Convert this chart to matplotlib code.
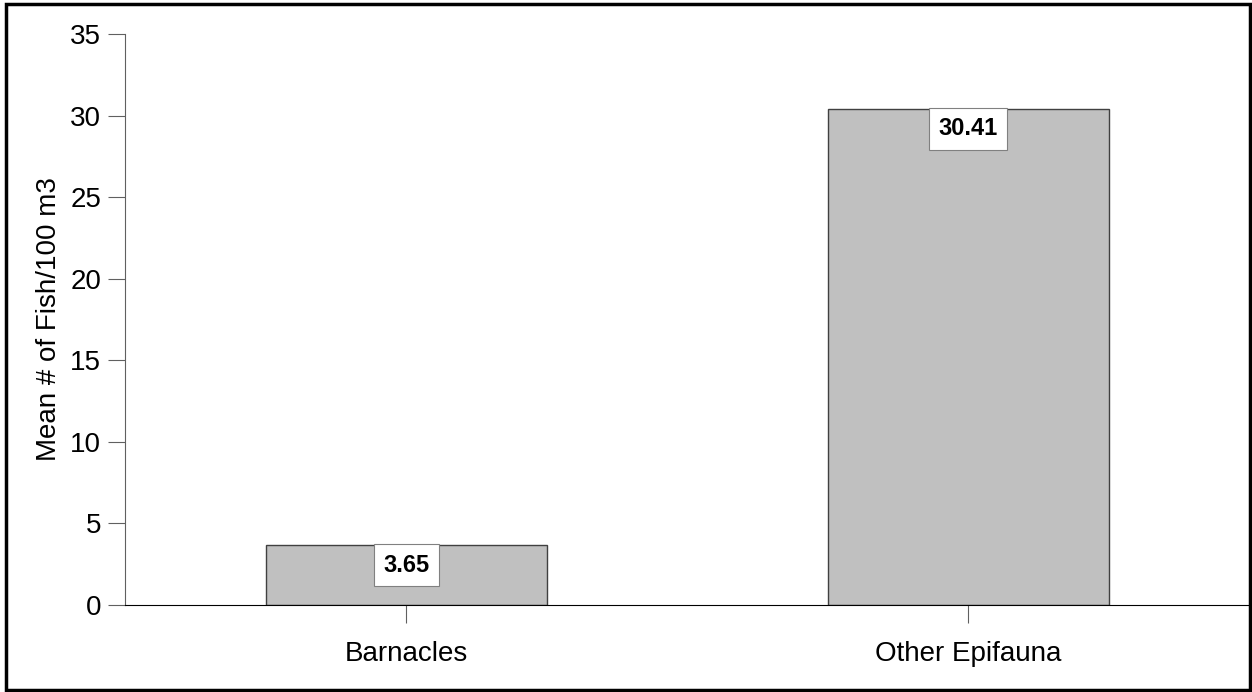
import matplotlib
matplotlib.use('Agg')
import matplotlib.pyplot as plt
from matplotlib.patches import Rectangle

# Chart data
categories = ['Barnacles', 'Other Epifauna']
mean_fish = [3.65, 30.41]
y_ticks = [0, 5, 10, 15, 20, 25, 30, 35]

plt.rcParams['font.family'] = ['Liberation Sans', 'DejaVu Sans']

fig = plt.figure(figsize=(12.52, 6.92), dpi=100, facecolor='white')
ax = fig.add_axes([0.0998, 0.1257, 0.8982, 0.8252])

x = list(range(len(categories)))
ax.bar(x, mean_fish, width=0.5, color='#C0C0C0', edgecolor='#404040', linewidth=1.0)

# Value labels in white boxes, hanging from top of each bar
for xi, val in zip(x, mean_fish):
    ax.annotate(f'{val:.2f}', xy=(xi, val), xytext=(0, -6), textcoords='offset points',
                ha='center', va='top', fontsize=17, fontweight='bold',
                bbox=dict(boxstyle='square,pad=0.4', facecolor='white', edgecolor='#808080', linewidth=0.8))

ax.set_xlim(-0.5, 1.5)
ax.set_ylim(0, 35)
ax.set_yticks(y_ticks)
ax.set_xticks(x)
ax.set_xticklabels(categories)
ax.set_ylabel('Mean # of Fish/100 m3', fontsize=20, labelpad=6)

ax.spines['top'].set_visible(False)
ax.spines['right'].set_visible(False)
ax.spines['left'].set_color('#606060')
ax.spines['bottom'].set_color('black')
ax.tick_params(axis='y', length=12, color='#606060', labelsize=20, pad=5)
ax.tick_params(axis='x', length=13, color='#606060', labelsize=20, pad=13)

# Black frame around the whole figure
fig.patches.append(Rectangle((0.0048, 0.003), 0.9936, 0.9915, transform=fig.transFigure,
                             fill=False, edgecolor='black', linewidth=2.5))

plt.savefig('out.png', dpi=100)
plt.close()
